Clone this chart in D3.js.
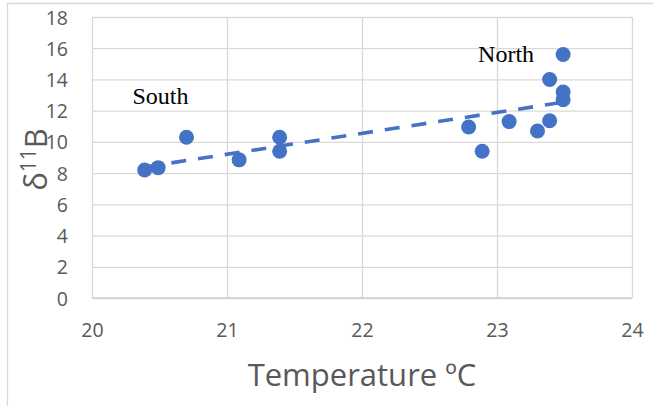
<!DOCTYPE html>
<html>
<head>
<meta charset="utf-8">
<script src="https://cdn.jsdelivr.net/npm/d3@7"></script>
<style>
    html, body { margin: 0; padding: 0; background: #fff; }
    svg { display: block; }
    .tick text { font-family: "Open Sans", sans-serif; fill: #595959; }
</style>
</head>
<body>
<svg id="chart" width="653" height="406"></svg>
<script>
// temperature (°C) and δ11B of each sample
const temperature = [20.39, 20.49, 20.70, 21.09, 21.39, 21.39, 22.79, 22.89, 23.09, 23.30, 23.39, 23.39, 23.49, 23.49, 23.49];
const boron = [8.2, 8.35, 10.3, 8.85, 10.3, 9.4, 10.95, 9.4, 11.3, 10.7, 11.35, 14.0, 15.6, 13.2, 12.7];

const xTicks = [20, 21, 22, 23, 24];
const yTicks = [0, 2, 4, 6, 8, 10, 12, 14, 16, 18];

const regionNames = ['South', 'North'];
const regionAt = [[20.3, 12.4], [22.86, 15.1]];

const blue = '#4472c4';
const grid = '#d9d9d9';

const margin = { top: 17, left: 92, bottom: 108, right: 21 };
const width = 653;
const height = 406;
const plotWidth = width - margin.left - margin.right;
const plotHeight = height - margin.top - margin.bottom;

const svg = d3.select('#chart');

// outer chart border (only top and left edges visible)
svg.append('path')
    .attr('d', `M7.5,${height}V3.5H${width}`)
    .attr('fill', 'none')
    .attr('stroke', grid)
    .attr('stroke-width', 1.3);

const g = svg.append('g')
    .attr('transform', `translate(${margin.left},${margin.top})`);

const x = d3.scaleLinear().domain([20, 24]).range([0, plotWidth]);
const y = d3.scaleLinear().domain([0, 18]).range([plotHeight, 0]);

const yAxe = d3.axisLeft(y)
    .tickValues(yTicks)
    .tickSize(-plotWidth)
    .tickPadding(24)
    .tickFormat(d3.format('d'));

const xAxe = d3.axisBottom(x)
    .tickValues(xTicks)
    .tickSize(-plotHeight)
    .tickPadding(25)
    .tickFormat(d3.format('d'));

const yAxisG = g.append('g').call(yAxe);
yAxisG.select('.domain').remove();
yAxisG.selectAll('line').attr('stroke', grid).attr('stroke-width', 1.3);
yAxisG.selectAll('text').attr('font-size', 19.5).attr('dy', '0.36em');

const xAxisG = g.append('g')
    .attr('transform', `translate(0,${plotHeight})`)
    .call(xAxe);
xAxisG.select('.domain').remove();
xAxisG.selectAll('line').attr('stroke', grid).attr('stroke-width', 1.3);
xAxisG.selectAll('text').attr('font-size', 19.5);

// baseline at 0 a bit stronger
g.append('line')
    .attr('x1', 0).attr('x2', plotWidth)
    .attr('y1', y(0)).attr('y2', y(0))
    .attr('stroke', '#cfcfcf')
    .attr('stroke-width', 1.6);

const points = d3.range(temperature.length).map(i => [temperature[i], boron[i]]);

g.selectAll('circle.pt')
    .data(points)
    .enter()
    .append('circle')
    .attr('class', 'pt')
    .attr('cx', d => x(d[0]))
    .attr('cy', d => y(d[1]))
    .attr('r', 7.5)
    .attr('fill', blue);

// linear trend line (least squares)
const mx = d3.mean(temperature);
const my = d3.mean(boron);
const slope = d3.sum(points, d => (d[0] - mx) * (d[1] - my)) /
    d3.sum(points, d => (d[0] - mx) * (d[0] - mx));
const fit = t => my + slope * (t - mx);
const [x0, x1] = d3.extent(temperature);

g.append('line')
    .attr('x1', x(x0)).attr('y1', y(fit(x0)))
    .attr('x2', x(x1)).attr('y2', y(fit(x1)))
    .attr('stroke', blue)
    .attr('stroke-width', 3.6)
    .attr('stroke-dasharray', '15,12');

g.selectAll('text.region')
    .data(regionNames)
    .enter()
    .append('text')
    .attr('class', 'region')
    .attr('x', (d, i) => x(regionAt[i][0]))
    .attr('y', (d, i) => y(regionAt[i][1]))
    .attr('font-family', '"Liberation Serif", "Times New Roman", serif')
    .attr('font-size', 24)
    .attr('fill', '#000')
    .text(d => d);

// axis titles
svg.append('text')
    .attr('x', margin.left + x(22))
    .attr('y', 386)
    .attr('text-anchor', 'middle')
    .attr('font-family', '"Open Sans", sans-serif')
    .attr('font-size', 31)
    .attr('fill', '#595959')
    .text('Temperature ºC');

const yTitle = svg.append('text')
    .attr('transform', `translate(47,${margin.top + y(9) + 2}) rotate(-90)`)
    .attr('text-anchor', 'middle')
    .attr('font-family', '"Open Sans", sans-serif')
    .attr('font-size', 31)
    .attr('fill', '#595959');
yTitle.append('tspan').text('δ');
yTitle.append('tspan').attr('font-size', 21).attr('dy', -11).text('11');
yTitle.append('tspan').attr('dy', 11).text('B');
</script>
</body>
</html>
